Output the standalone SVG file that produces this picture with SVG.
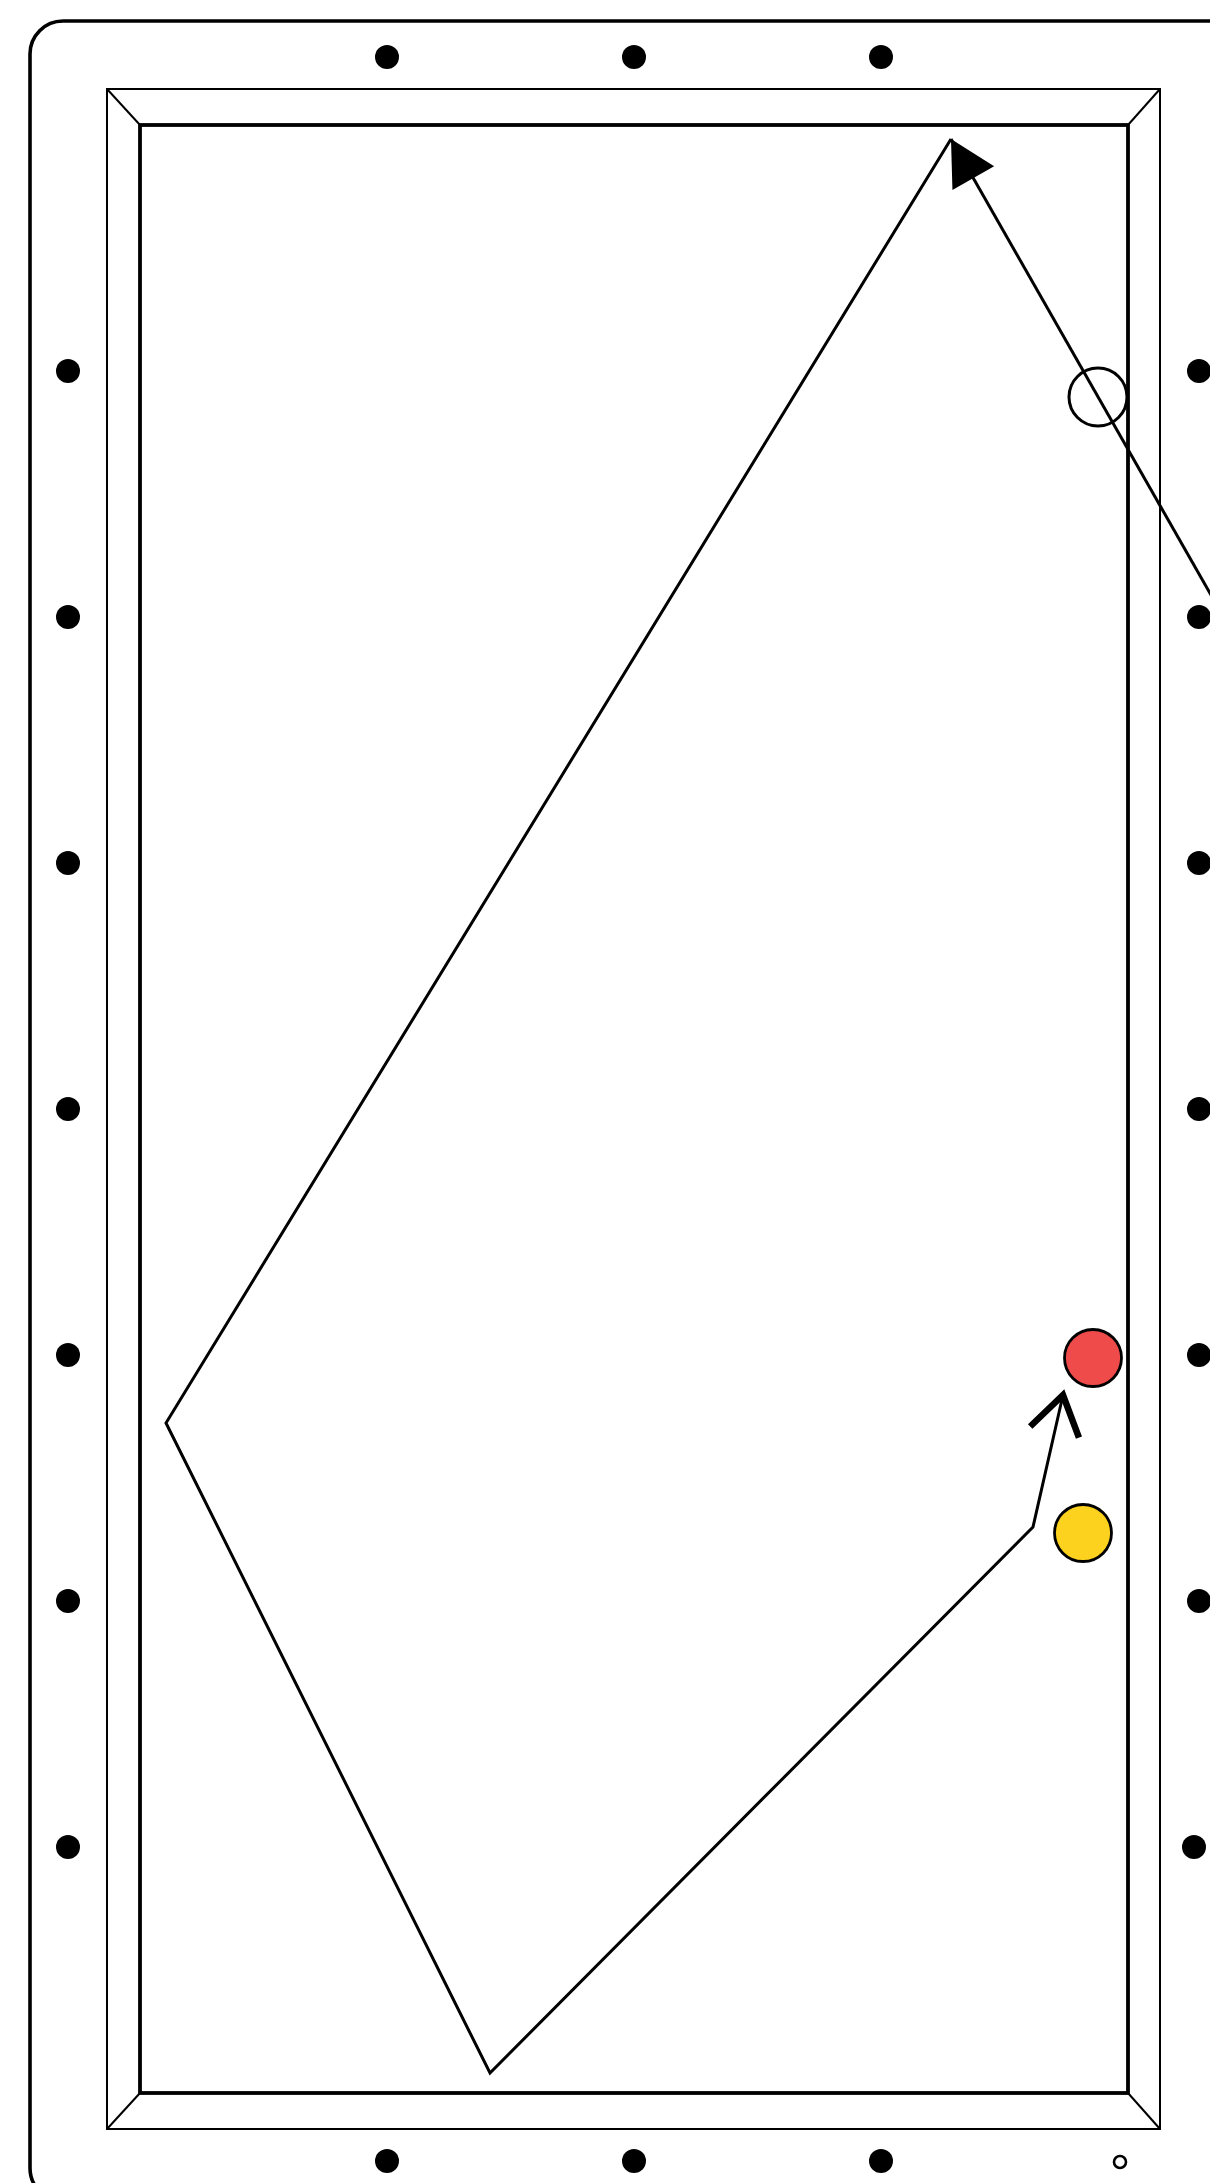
<svg xmlns="http://www.w3.org/2000/svg" width="1210" height="2183" viewBox="0 0 1210 2183">
  <style>
    .frame { fill: none; stroke: #000; }
    .dot { fill: #000; }
    .path { fill: none; stroke: #000; stroke-width: 3; stroke-linejoin: miter; }
    .ball { stroke: #000; stroke-width: 2.8; }
  </style>
  <defs>
    <marker id="arrowFilled" markerUnits="userSpaceOnUse" viewBox="0 -26 46 52" refX="45" refY="0" markerWidth="46" markerHeight="52" orient="auto" overflow="visible">
      <path d="M0,-24 L45,0 L0,24 Z" fill="#000"/>
    </marker>
    <marker id="arrowOpen" markerUnits="userSpaceOnUse" viewBox="-4 -30 48 60" refX="38" refY="0" markerWidth="48" markerHeight="60" orient="auto" overflow="visible">
      <path d="M0,-25 L38,0 L0,25" fill="none" stroke="#000" stroke-width="6.5" stroke-linejoin="miter"/>
    </marker>
  </defs>
  <rect width="1210" height="2183" fill="#fff"/>

  <g id="table">
    <rect class="frame" x="30" y="21" width="1220" height="2180" rx="33" ry="33" stroke-width="3.6"/>
    <rect class="frame" x="107" y="89" width="1053" height="2040" stroke-width="2"/>
    <rect class="frame" x="140" y="125" width="988" height="1968" stroke-width="3.8"/>
    <line class="frame" x1="107" y1="89" x2="140" y2="125" stroke-width="2"/>
    <line class="frame" x1="1160" y1="89" x2="1128" y2="125" stroke-width="2"/>
    <line class="frame" x1="107" y1="2129" x2="140" y2="2093" stroke-width="2"/>
    <line class="frame" x1="1160" y1="2129" x2="1128" y2="2093" stroke-width="2"/>
  </g>

  <g id="diamonds">
    <circle class="dot" cx="387" cy="57" r="12"/>
    <circle class="dot" cx="634" cy="57" r="12"/>
    <circle class="dot" cx="881" cy="57" r="12"/>
    <circle class="dot" cx="387" cy="2161" r="12"/>
    <circle class="dot" cx="634" cy="2161" r="12"/>
    <circle class="dot" cx="881" cy="2161" r="12"/>
    <circle cx="1120" cy="2162" r="6" fill="none" stroke="#000" stroke-width="2.6"/>
    <circle class="dot" cx="68" cy="371" r="12"/>
    <circle class="dot" cx="68" cy="617" r="12"/>
    <circle class="dot" cx="68" cy="863" r="12"/>
    <circle class="dot" cx="68" cy="1109" r="12"/>
    <circle class="dot" cx="68" cy="1355" r="12"/>
    <circle class="dot" cx="68" cy="1601" r="12"/>
    <circle class="dot" cx="68" cy="1847" r="12"/>
    <circle class="dot" cx="1199" cy="371" r="12"/>
    <circle class="dot" cx="1199" cy="617" r="12"/>
    <circle class="dot" cx="1199" cy="863" r="12"/>
    <circle class="dot" cx="1199" cy="1109" r="12"/>
    <circle class="dot" cx="1199" cy="1355" r="12"/>
    <circle class="dot" cx="1199" cy="1601" r="12"/>
    <circle class="dot" cx="1194" cy="1847" r="12"/>
  </g>

  <g id="connectors">
    <path class="path" d="M1215,602 L951,139" marker-end="url(#arrowFilled)"/>
    <path class="path" d="M951,139 L166,1423 L490,2073 L1033,1527 L1063,1395" marker-end="url(#arrowOpen)"/>
  </g>

  <g id="ghost-ball">
    <circle cx="1098" cy="397" r="29" fill="none" stroke="#000" stroke-width="3"/>
  </g>
  <g id="red-ball">
    <circle class="ball" cx="1093" cy="1358" r="28.5" fill="#EF4B4B"/>
  </g>
  <g id="yellow-ball">
    <circle class="ball" cx="1083" cy="1533" r="28.5" fill="#FCD21E"/>
  </g>
</svg>
